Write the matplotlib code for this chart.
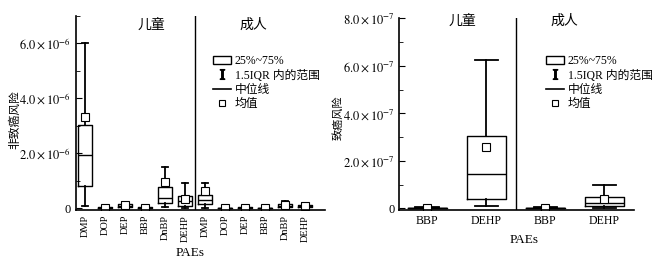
import matplotlib.pyplot as plt
from matplotlib.patches import Patch
from matplotlib.lines import Line2D

plt.rcParams['font.family'] = ['Liberation Serif', 'Noto Sans CJK SC']
plt.rcParams['mathtext.fontset'] = 'stix'
plt.rcParams['font.size'] = 9

# non-carcinogenic risk (left), children then adults
nc_labels = ['DMP', 'DOP', 'DEP', 'BBP', 'DnBP', 'DEHP',
             'DMP', 'DOP', 'DEP', 'BBP', 'DnBP', 'DEHP']
nc_low = [0.08, 0.01, 0.03, 0.01, 0.06, 0.03, 0.03, 0.01, 0.01, 0.01, 0.02, 0.01]
nc_q1 = [0.82, 0.02, 0.06, 0.02, 0.20, 0.09, 0.15, 0.01, 0.02, 0.01, 0.05, 0.04]
nc_med = [1.94, 0.03, 0.10, 0.03, 0.36, 0.25, 0.30, 0.02, 0.03, 0.02, 0.10, 0.08]
nc_q3 = [3.03, 0.05, 0.14, 0.04, 0.76, 0.45, 0.48, 0.03, 0.04, 0.03, 0.16, 0.12]
nc_high = [6.00, 0.07, 0.22, 0.06, 1.49, 0.91, 0.93, 0.05, 0.06, 0.05, 0.27, 0.20]
nc_mean = [3.33, 0.03, 0.11, 0.03, 0.97, 0.33, 0.62, 0.02, 0.03, 0.02, 0.12, 0.09]

# carcinogenic risk (right)
c_labels = ['BBP', 'DEHP', 'BBP', 'DEHP']
c_low = [0.00, 0.11, 0.00, 0.02]
c_q1 = [0.01, 0.39, 0.01, 0.10]
c_med = [0.02, 1.43, 0.02, 0.24]
c_q3 = [0.03, 3.06, 0.03, 0.49]
c_high = [0.05, 6.24, 0.05, 1.00]
c_mean = [0.02, 2.60, 0.02, 0.39]

legend_labels = ['25%~75%', '1.5IQR 内的范围', '中位线', '均值']


def make_stats(low, q1, med, q3, high, mean, scale):
    out = []
    for i in range(len(low)):
        out.append(dict(whislo=low[i] * scale, q1=q1[i] * scale, med=med[i] * scale,
                        q3=q3[i] * scale, whishi=high[i] * scale, mean=mean[i] * scale,
                        fliers=[]))
    return out


def draw(ax, stats, width, capw, sep, group_pos):
    ax.bxp(stats, positions=range(len(stats)), widths=width, showmeans=True,
           showfliers=False, patch_artist=False,
           boxprops=dict(color='black', lw=1.0),
           whiskerprops=dict(color='black', lw=1.3),
           capprops=dict(color='black', lw=1.3),
           medianprops=dict(color='black', lw=1.0),
           meanprops=dict(marker='s', markerfacecolor='white', markeredgecolor='black',
                          markersize=5.5, markeredgewidth=0.8),
           capwidths=width * capw)
    ax.axvline(sep, color='black', lw=1.0)
    ax.spines['top'].set_visible(False)
    ax.spines['right'].set_visible(False)
    ax.spines['left'].set_linewidth(1.2)
    ax.spines['bottom'].set_linewidth(1.2)
    ax.tick_params(axis='x', length=0)
    ax.tick_params(axis='y', which='both', direction='in', labelsize=9)
    ax.tick_params(axis='y', which='major', length=4)
    ax.tick_params(axis='y', which='minor', length=3)
    ax.set_xlabel('PAEs', fontsize=9.5)
    ax.text(group_pos[0], group_pos[2], '儿童', transform=ax.get_xaxis_transform(),
            ha='center', va='center', fontsize=10)
    ax.text(group_pos[1], group_pos[2], '成人', transform=ax.get_xaxis_transform(),
            ha='center', va='center', fontsize=10)


def legend(ax, anchor):
    handles = [Patch(facecolor='white', edgecolor='black', lw=1.0),
               Line2D([], [], ls='none', marker='$\\mathrm{I}$', color='black', markersize=7),
               Line2D([], [], color='black', lw=1.2),
               Line2D([], [], ls='none', marker='s', markerfacecolor='white',
                      markeredgecolor='black', markersize=5, markeredgewidth=0.8)]
    ax.legend(handles, legend_labels, loc='upper left', bbox_to_anchor=anchor,
              bbox_transform=ax.figure.transFigure, frameon=False, fontsize=8.5,
              handlelength=1.5, handleheight=0.75, handletextpad=0.35, labelspacing=0.2,
              borderpad=0)


fig = plt.figure(figsize=(6.62, 2.62), dpi=100)

ax1 = fig.add_axes([0.1148, 0.1985, 0.3762, 0.7405])
draw(ax1, make_stats(nc_low, nc_q1, nc_med, nc_q3, nc_high, nc_mean, 1e-6),
     0.7, 0.38, 5.5, (3.33, 8.41, 0.954))
ax1.set_xlim(-0.45, 12.0)
ax1.set_ylim(-0.06e-6, 7.0e-6)
ax1.set_yticks([0, 2e-6, 4e-6, 6e-6])
ax1.set_yticks([1e-6, 3e-6, 5e-6, 7e-6], minor=True)
ax1.set_yticklabels(['0', r'$2.0\times10^{-6}$', r'$4.0\times10^{-6}$', r'$6.0\times10^{-6}$'])
ax1.set_xticks(range(12))
ax1.set_xticklabels(nc_labels, rotation=90, fontsize=7.5)
ax1.set_ylabel('非致癌风险', fontsize=8.5)
ax1.yaxis.set_label_coords(-0.221, 0.464)
ax1.xaxis.set_label_coords(0.458, -0.19)
legend(ax1, (0.313, 0.812))

ax2 = fig.add_axes([0.6032, 0.1985, 0.3545, 0.7317])
draw(ax2, make_stats(c_low, c_q1, c_med, c_q3, c_high, c_mean, 1e-7),
     0.66, 0.6, 1.5, (0.60, 2.32, 0.987))
ax2.set_xlim(-0.47, 3.5)
ax2.set_ylim(-0.07e-7, 8.0e-7)
ax2.set_yticks([0, 2e-7, 4e-7, 6e-7, 8e-7])
ax2.set_yticks([1e-7, 3e-7, 5e-7, 7e-7], minor=True)
ax2.set_yticklabels(['0', r'$2.0\times10^{-7}$', r'$4.0\times10^{-7}$',
                     r'$6.0\times10^{-7}$', r'$8.0\times10^{-7}$'])
ax2.set_xticks(range(4))
ax2.set_xticklabels(c_labels, fontsize=8.5)
ax2.set_ylabel('致癌风险', fontsize=8)
ax2.yaxis.set_label_coords(-0.24, 0.483)
ax2.xaxis.set_label_coords(0.533, -0.125)
legend(ax2, (0.816, 0.812))

fig.savefig('out.png', dpi=100)
